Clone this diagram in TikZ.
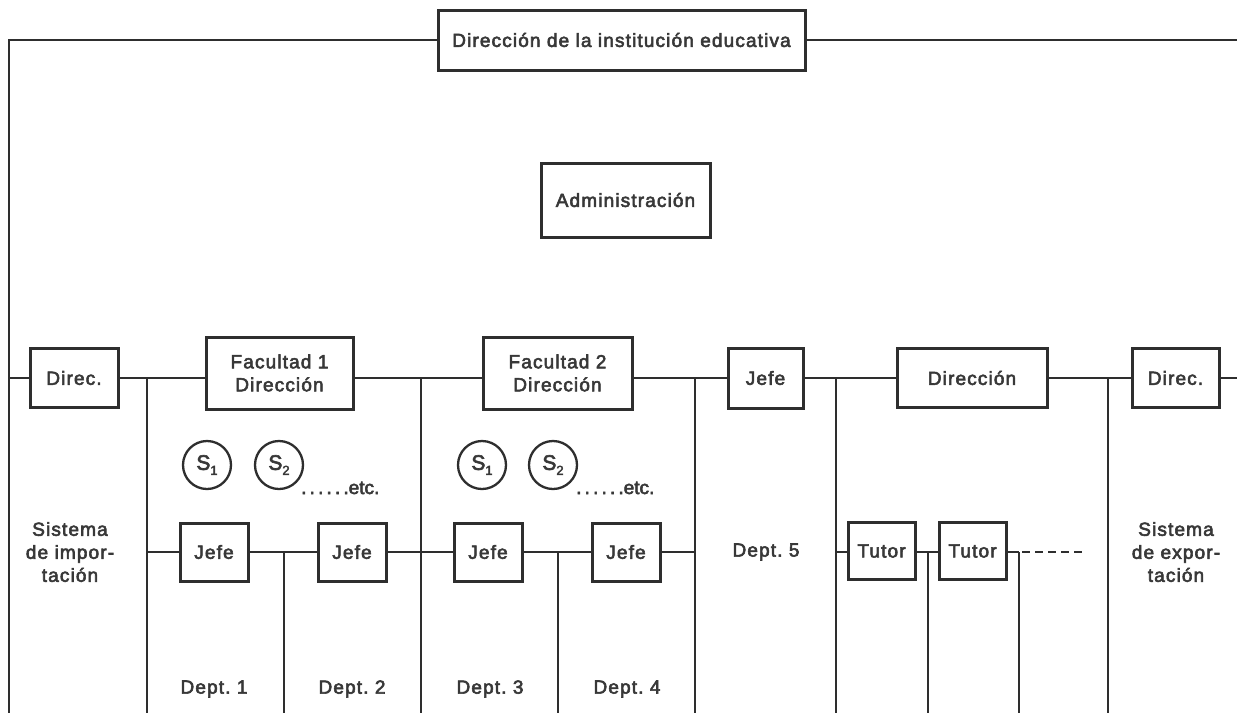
\documentclass[tikz,border=0pt]{standalone}
\usepackage{fontspec}
\setmainfont{Liberation Sans}[LetterSpace=6,FakeBold=3]
\definecolor{ink}{HTML}{2E2E2E}
\definecolor{txt}{HTML}{383838}
\begin{document}
\begin{tikzpicture}[x=1pt,y=-1pt,
  every node/.style={text=txt,font=\fontsize{19}{23}\selectfont},
  bx/.style={draw=ink,line width=3pt,inner sep=0pt,align=center},
  ln/.style={draw=ink,line width=2.8pt},
  sc/.style={draw=ink,line width=2.3pt,circle,minimum size=48pt,inner sep=0pt,font=\fontsize{21}{23}\selectfont},
  lbl/.style={align=center,inner sep=0pt}]
\useasboundingbox[fill=white] (0,0) rectangle (1237,713);
% boxes
\node[bx,minimum width=367pt,minimum height=60pt] (top) at (621.5,40) {Dirección de la institución educativa};
\node[bx,minimum width=169pt,minimum height=74pt] (adm) at (625.5,200) {Administración};
\node[bx,minimum width=88pt,minimum height=59pt] (dl) at (74,378) {Direc.};
\node[bx,minimum width=147pt,minimum height=72pt] (f1) at (279.5,373) {Facultad 1\\Dirección};
\node[bx,minimum width=149pt,minimum height=72pt] (f2) at (557.5,373) {Facultad 2\\Dirección};
\node[bx,minimum width=75pt,minimum height=60pt] (jt) at (765.5,378) {Jefe};
\node[bx,minimum width=150pt,minimum height=59pt] (dir) at (972,378) {Dirección};
\node[bx,minimum width=87pt,minimum height=59pt] (dr) at (1175.5,378) {Direc.};
% second row
\node[bx,minimum width=68pt,minimum height=58pt] (j1) at (214,552) {Jefe};
\node[bx,minimum width=68pt,minimum height=58pt] (j2) at (352,552) {Jefe};
\node[bx,minimum width=68pt,minimum height=58pt] (j3) at (488,552) {Jefe};
\node[bx,minimum width=68pt,minimum height=58pt] (j4) at (626,552) {Jefe};
\node[bx,minimum width=67pt,minimum height=57pt] (t1) at (881.5,551) {Tutor};
\node[bx,minimum width=67pt,minimum height=57pt] (t2) at (972.5,551) {Tutor};
% circles
\node[sc] (s1) at (207,465) {S\raisebox{-0.45ex}{\fontsize{13}{13}\selectfont 1}};
\node[sc] (s2) at (279,465) {S\raisebox{-0.45ex}{\fontsize{13}{13}\selectfont 2}};
\node[sc] (s3) at (482,465) {S\raisebox{-0.45ex}{\fontsize{13}{13}\selectfont 1}};
\node[sc] (s4) at (553,465) {S\raisebox{-0.45ex}{\fontsize{13}{13}\selectfont 2}};
\node[lbl,anchor=base west] (e1) at (301,494) {\addfontfeature{LetterSpace=0}{.\,.\,.\,.\,.\,.}etc.};
\node[lbl,anchor=base west] (e2) at (576,494) {\addfontfeature{LetterSpace=0}{.\,.\,.\,.\,.\,.}etc.};
% labels
\node[lbl] (si) at (70,552) {Sistema\\de impor-\\tación};
\node[lbl] (se) at (1176,552) {Sistema\\de expor-\\tación};
\node[lbl] (d1) at (214,689) {Dept.\ 1};
\node[lbl] (d2) at (352,689) {Dept.\ 2};
\node[lbl] (d3) at (490,689) {Dept.\ 3};
\node[lbl] (d4) at (627,689) {Dept.\ 4};
\node[lbl] (d5) at (766,552) {Dept.\ 5};
% coordinates
\coordinate (tl) at (9,40);
\coordinate (tr) at (1237,40);
\coordinate (bl) at (9,713);
\coordinate (rl) at (9,378);
\coordinate (rr) at (1237,378);
\foreach \n/\x in {v1/147,v2/421,v3/695,v4/836,v5/1108}{
  \coordinate (\n t) at (\x,378);
  \coordinate (\n b) at (\x,713);
}
\foreach \n/\x in {w1/284,w2/558,w3/928,w4/1019}{
  \coordinate (\n t) at (\x,552);
  \coordinate (\n b) at (\x,713);
}
\coordinate (v1m) at (147,552);
\coordinate (v3m) at (695,552);
\coordinate (v4m) at (836,552);
\coordinate (dend) at (1086,552);
% top frame
\draw[ln] (top.west) -- (top.west -| tl) -- (bl);
\draw[ln] (top.east) -- (tr);
% first row
\draw[ln] (rl) -- (dl.west);
\draw[ln] (dl.east) -- (dl.east -| f1.west);
\draw[ln] (f1.east |- v2t) -- (f2.west |- v2t);
\draw[ln] (f2.east |- v3t) -- (jt.west |- v3t);
\draw[ln] (jt.east |- v4t) -- (dir.west |- v4t);
\draw[ln] (dir.east |- v5t) -- (dr.west |- v5t);
\draw[ln] (dr.east |- rr) -- (rr);
\foreach \n in {v1,v2,v3,v4,v5}{\draw[ln] (\n t) -- (\n b);}
% second row
\draw[ln] (v1m) -- (j1.west |- v1m);
\draw[ln] (j1.east |- v1m) -- (j2.west |- v1m);
\draw[ln] (j2.east |- v1m) -- (j3.west |- v1m);
\draw[ln] (j3.east |- v1m) -- (j4.west |- v1m);
\draw[ln] (j4.east |- v1m) -- (v3m);
\draw[ln] (v4m) -- (t1.west |- v4m);
\draw[ln] (t1.east |- v4m) -- (t2.west |- v4m);
\draw[ln] (t2.east |- v4m) -- (w4t);
\draw[ln,dash pattern=on 8pt off 5pt] (w4t) ++(3,0) -- (dend);
\foreach \n in {w1,w2,w3,w4}{\draw[ln] (\n t) -- (\n b);}
\end{tikzpicture}
\end{document}
